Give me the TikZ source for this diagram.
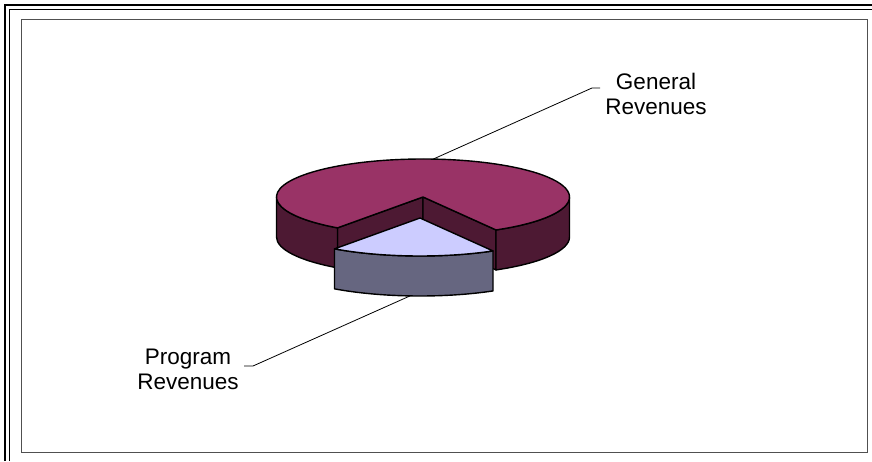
\documentclass[tikz,border=0pt]{standalone}
\usepackage{fontspec}
\setmainfont{Liberation Sans}
\usetikzlibrary{calc}
\definecolor{pietop}{HTML}{993366}
\definecolor{pieside}{HTML}{4D1933}
\definecolor{wedgetop}{HTML}{CCCCFF}
\definecolor{wedgeside}{HTML}{666680}
\definecolor{framegray}{HTML}{505050}
\begin{document}
\begin{tikzpicture}[x=1pt,y=1pt,
  face/.style={draw=black, line width=1.4pt, line join=round},
  leader/.style={draw=black, line width=0.8pt},
  pielabel/.style={font=\fontsize{22.5}{24.5}\selectfont, align=center, inner sep=0pt, anchor=north},
  ell/.style={x radius=146.5pt, y radius=38pt}]
\useasboundingbox (0,0) rectangle (872,461);
% frame
\draw[line width=1.6pt] (5,0) -- (5,456) -- (872,456);
\draw[line width=1.6pt] (9.5,0) -- (9.5,451.5) -- (872,451.5);
\draw[framegray, line width=1.1pt] (21.5,8.5) rectangle (867.5,441.5);
% main pie
\coordinate (C) at (423,264);
\coordinate (Cb) at (423,224);
\coordinate (L) at ($(C)+(-125.7:146.5pt and 38pt)$);
\coordinate (R) at ($(C)+(-60.1:146.5pt and 38pt)$);
\coordinate (Lb) at ($(L)+(0,-40)$);
\coordinate (Rb) at ($(R)+(0,-40)$);
\coordinate (W) at ($(C)+(180:146.5pt and 38pt)$);
\coordinate (Ea) at ($(C)+(0:146.5pt and 38pt)$);
\path[face, fill=pieside] (C) -- (L) -- (Lb) -- (Cb) -- cycle;
\path[face, fill=pieside] (C) -- (R) -- (Rb) -- (Cb) -- cycle;
\path[face, fill=pieside] (L) arc[start angle=-125.7, end angle=-180, ell] -- ++(0,-40)
   arc[start angle=-180, end angle=-125.7, ell] -- cycle;
\path[face, fill=pieside] (Ea) arc[start angle=0, end angle=-60.1, ell] -- ++(0,-40)
   arc[start angle=-60.1, end angle=0, ell] -- cycle;
\path[face, fill=pietop] (C) -- (L) arc[start angle=-125.7, end angle=-420.1, ell] -- cycle;
% exploded wedge
\coordinate (E) at (420,243);
\coordinate (Eb) at (420,203);
\coordinate (EL) at ($(E)+(-125.7:146.5pt and 38pt)$);
\coordinate (ER) at ($(E)+(-60.1:146.5pt and 38pt)$);
\path[face, fill=wedgeside] (ER) arc[start angle=-60.1, end angle=-125.7, ell] -- ++(0,-40)
   arc[start angle=-125.7, end angle=-60.1, ell] -- cycle;
\path[face, fill=wedgetop] (E) -- (ER) arc[start angle=-60.1, end angle=-125.7, ell] -- cycle;
% labels
\node[pielabel] (gen) at (656,388) {General\\Revenues};
\node[pielabel] (prog) at (188,112) {Program\\Revenues};
% leaders
\coordinate (gtip) at ($(C)+(86:146.5pt and 38pt)$);
\coordinate (gknee) at (592,373);
\coordinate (gend) at (600,373);
\draw[leader] (gtip) -- (gknee) -- (gend);
\coordinate (ptip) at ($(Eb)+(-93.9:146.5pt and 38pt)$);
\coordinate (pknee) at (253,95);
\coordinate (pend) at (244,95);
\draw[leader] (ptip) -- (pknee) -- (pend);
\end{tikzpicture}
\end{document}
